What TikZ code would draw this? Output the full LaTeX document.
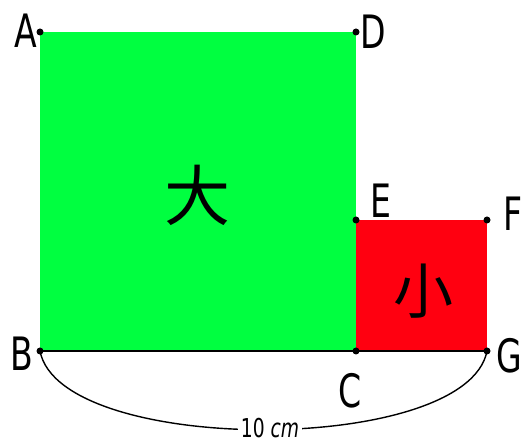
\documentclass[tikz,border=0pt]{standalone}
\usepackage{fontspec}
\setmainfont[FakeStretch=0.72]{DejaVu Sans}
\newfontfamily\cjk{Noto Sans CJK SC}
\usetikzlibrary{positioning}
\definecolor{bigsq}{RGB}{0,255,64}
\definecolor{smallsq}{RGB}{255,0,16}
\tikzset{
  pt/.style={circle, fill=black, inner sep=0pt, minimum size=7pt},
  lbl/.style={font=\fontsize{46}{46}\selectfont, inner sep=0pt},
  han/.style={font=\cjk\fontsize{66}{66}\selectfont, inner sep=0pt},
  edge/.style={draw=black, line width=2pt},
  every picture/.append style={line join=round}
}
\begin{document}
\begin{tikzpicture}[x=1pt, y=-1pt]
  \useasboundingbox (0,0) rectangle (523,446);
  % corners
  \coordinate (A) at (40,32);
  \coordinate (D) at (356,32);
  \coordinate (B) at (40,351);
  \coordinate (C) at (356,351);
  \coordinate (E) at (356,220);
  \coordinate (F) at (487,220);
  \coordinate (G) at (487,351);
  % squares
  \fill[bigsq] (A) rectangle (C);
  \fill[smallsq] (E) rectangle (G);
  \draw[edge] (B) -- (G);
  \draw[line width=1.4pt] (B) .. controls (60,456) and (467,456) .. (G);
  \node[font=\fontsize{26}{26}\selectfont, fill=white, inner xsep=3pt, inner ysep=0pt] (len) at (270,428) {10 \textit{cm}};
  % dots
  \foreach \p in {A,D,B,C,E,F,G}
    \node[pt] (d\p) at (\p) {};
  % labels
  \node[lbl] (lA) at (26,31) {A};
  \node[lbl] (lD) at (373,32) {D};
  \node[lbl] (lB) at (22,354) {B};
  \node[lbl] (lC) at (350,391) {C};
  \node[lbl] (lE) at (381,201) {E};
  \node[lbl] (lF) at (513,214) {F};
  \node[lbl] (lG) at (509,356) {G};
  \node[han] (big) at (197,195) {大};
  \node[han, font=\cjk\fontsize{60}{60}\selectfont] (small) at (423,291) {小};
\end{tikzpicture}
\end{document}
